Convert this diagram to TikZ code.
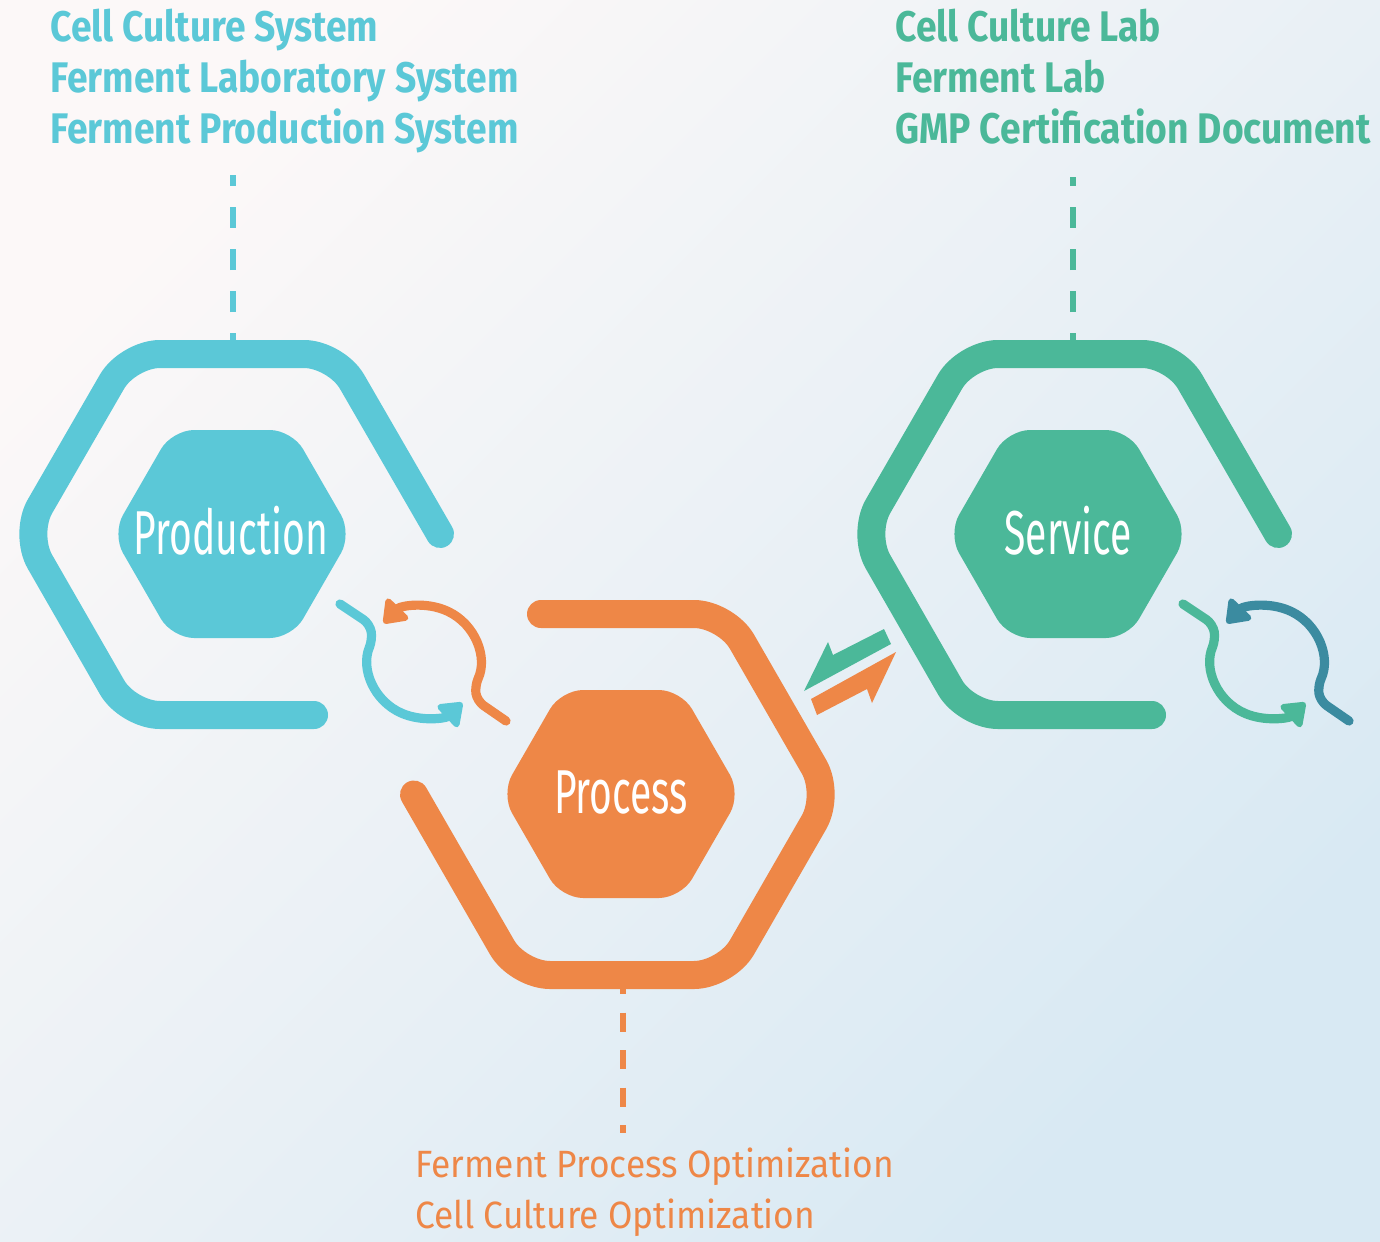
\documentclass[tikz,border=0pt]{standalone}
\usepackage{fontspec}
\usetikzlibrary{arrows.meta}
\newfontfamily\lblfont[FakeStretch=0.87]{Fira Sans}
\newfontfamily\botfont[FakeStretch=0.93]{Fira Sans}
\newfontfamily\bigfont[FakeStretch=0.63]{Fira Sans}
\definecolor{cy}{HTML}{5BC8D7}
\definecolor{org}{HTML}{EE8747}
\definecolor{grn}{HTML}{4BB899}
\definecolor{tealdk}{HTML}{3B8BA0}
\definecolor{bgA}{HTML}{FCF8F8}
\definecolor{bgB}{HTML}{D8E9F3}
\begin{document}
\begin{tikzpicture}[x=0.5pt,y=-0.5pt,
  ring/.style={line width=14pt, line cap=round, line join=round, rounded corners=16pt},
  core/.style={rounded corners=11pt},
  biglabel/.style={text=white, font=\bigfont\fontsize{31pt}{34pt}\selectfont, inner sep=0pt},
  toplabel/.style={anchor=base west, inner sep=0pt, font=\lblfont\bfseries\fontsize{21.4pt}{24pt}\selectfont},
  botlabel/.style={anchor=base west, inner sep=0pt, font=\botfont\fontsize{19pt}{22pt}\selectfont},
  dashline/.style={line width=3.4pt, dash pattern=on 10.5pt off 10.5pt},
  dashlineb/.style={line width=3.2pt, dash pattern=on 9.5pt off 9.25pt},
  cyc/.style={line width=4.6pt, line cap=round, line join=round, rounded corners=4pt, -{Triangle[length=12pt,width=17pt,round]}}
]
\useasboundingbox (0,0) rectangle (1380,1241);
\shade[top color=bgA, bottom color=bgB, shading angle=45] (0,0) rectangle (1380,1241);

% dashed connectors
\coordinate (prodtop) at (233,354);
\coordinate (prodlbl) at (233,175);
\coordinate (servtop) at (1073,354);
\coordinate (servlbl) at (1073,177);
\coordinate (procbot) at (623,975);
\coordinate (proclbl) at (623,1133);
\draw[dashline, cy] (prodtop) -- (prodlbl);
\draw[dashline, grn] (servtop) -- (servlbl);
\draw[dashlineb, org] (procbot) -- (proclbl);

% outer rings
\draw[ring, cy] (440,534) -- (336,354) -- (128,354) -- (24,534) -- (128,715) -- (314,715);
\draw[ring, grn] (1278,534) -- (1174,354) -- (966,354) -- (862,534) -- (966,715) -- (1152,715);
\draw[ring, org] (541,614) -- (726,614) -- (830,794.5) -- (726,975) -- (518,975) -- (414,794.5);

% inner hexagons
\fill[cy, core] (112,534) -- (172,430) -- (292,430) -- (352,534) -- (292,638) -- (172,638) -- cycle;
\fill[org, core] (501,794) -- (561,690) -- (681,690) -- (741,794) -- (681,898) -- (561,898) -- cycle;
\fill[grn, core] (948,534) -- (1008,430) -- (1128,430) -- (1188,534) -- (1128,638) -- (1008,638) -- cycle;

\node[biglabel] (prod) at (231,531) {Production};
\node[biglabel] (proc) at (621,793) {Process};
\node[biglabel] (serv) at (1068,531) {Service};

% cycle arrows (production/process)
\draw[cyc, cy] (340,604) -- (370,624) -- (372.5,640) arc[start angle=203, end angle=47, radius=56];
\draw[cyc, org] (506,721) -- (477,701) -- (474.8,685.7) arc[start angle=25, end angle=-136, radius=56];
% cycle arrows (service)
\draw[cyc, grn] (1183,604) -- (1213,624) -- (1215.5,640) arc[start angle=203, end angle=47, radius=56];
\draw[cyc, tealdk] (1349,721) -- (1320,701) -- (1317.8,685.7) arc[start angle=25, end angle=-136, radius=56];

% exchange arrows process <-> service
\fill[grn] (884,629) -- (833,655) -- (828,642) -- (804,691) -- (891,644) -- cycle;
\fill[org] (811,699) -- (896,652) -- (872,703) -- (867,689) -- (817,715) -- cycle;

% labels
\node[toplabel, text=cy] (tl1) at (50,42) {Cell Culture System};
\node[toplabel, text=cy] (tl2) at (50,93) {Ferment Laboratory System};
\node[toplabel, text=cy] (tl3) at (50,144) {Ferment Production System};
\node[toplabel, text=grn] (tr1) at (895,42) {Cell Culture Lab};
\node[toplabel, text=grn] (tr2) at (895,93) {Ferment Lab};
\node[toplabel, text=grn] (tr3) at (895,144) {GMP Certification Document};
\node[botlabel, text=org] (b1) at (415,1177) {Ferment Process Optimization};
\node[botlabel, text=org] (b2) at (415,1228) {Cell Culture Optimization};
\end{tikzpicture}
\end{document}
